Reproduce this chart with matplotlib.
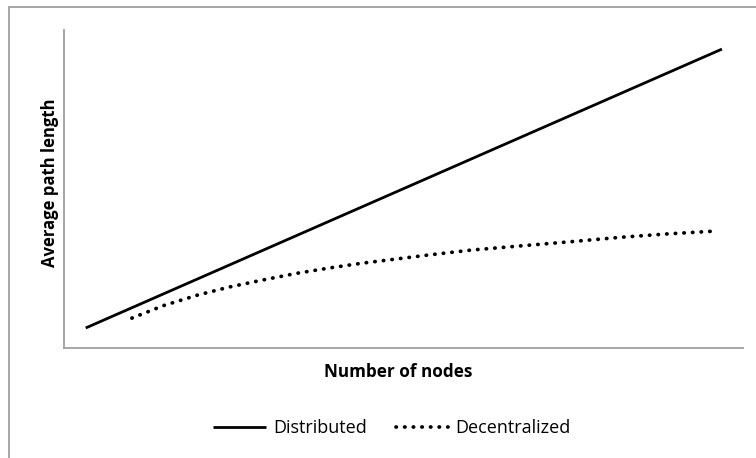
import numpy as np
import matplotlib.pyplot as plt
from matplotlib.patches import Rectangle

# values (arbitrary units, axis spans 0..100)
distributed_x = [3.2, 96.9]
distributed_y = [6.3, 94.0]
decentralized_x = [10.0, 14.6, 19.6, 24.4, 29.3, 34.3, 39.2, 44.0, 49.0, 53.5, 60.0, 67.2, 74.5, 81.9, 89.0, 96.2]
decentralized_y = [9.4, 13.3, 16.6, 19.2, 21.4, 23.5, 25.2, 26.7, 28.0, 29.2, 30.8, 32.1, 33.4, 34.8, 35.9, 36.8]

plt.rcParams['font.family'] = ['Open Sans', 'DejaVu Sans']

fig = plt.figure(figsize=(7.56, 4.58), dpi=100)
ax = fig.add_axes([64 / 756, 1 - 348 / 458, (743 - 64) / 756, (348 - 30) / 458])

# outer frame (only left and top edges visible in reference)
fig.add_artist(Rectangle((9 / 756, -0.1), 1.2, (458 - 7) / 458 + 0.1, transform=fig.transFigure,
                         fill=False, edgecolor='#a6a6a6', linewidth=1.4))

ax.plot(distributed_x, distributed_y, color='black', linewidth=2.0, solid_capstyle='butt',
        label='Distributed')
ax.plot(decentralized_x, decentralized_y, color='black', linewidth=2.7,
        linestyle=(0, (0.1, 2.2)), dash_capstyle='round', label='Decentralized')

ax.set_xlim(0, 100)
ax.set_ylim(0, 100)
ax.set_xticks([])
ax.set_yticks([])
for side in ['top', 'right']:
    ax.spines[side].set_visible(False)
for side in ['left', 'bottom']:
    ax.spines[side].set_color('#a6a6a6')
    ax.spines[side].set_linewidth(1.4)

ax.set_xlabel('Number of nodes', fontsize=12.3, fontweight='bold')
ax.set_ylabel('Average path length', fontsize=12.0, fontweight='bold')
ax.xaxis.set_label_coords((398 - 64) / 679, -(372 - 348) / 318, transform=ax.transAxes)
ax.yaxis.set_label_coords(-(64 - 50) / 679, (348 - 183) / 318, transform=ax.transAxes)
ax.xaxis.label.set_va('center')
ax.yaxis.label.set_va('center')

leg = fig.legend(loc='center', bbox_to_anchor=(392 / 756, 1 - 428 / 458), ncol=2, frameon=False,
                 fontsize=13, handlelength=2.9, handletextpad=0.4, columnspacing=1.6)

fig.savefig('out.png', dpi=100)
